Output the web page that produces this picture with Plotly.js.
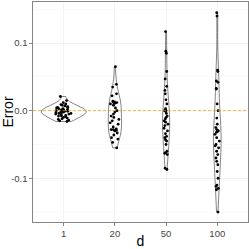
<!DOCTYPE html>
<html><head><meta charset="utf-8">
<script src="https://cdn.plot.ly/plotly-3.0.1.min.js"></script>
<style>html,body{margin:0;padding:0;background:#fff}#chart{width:249px;height:249px}</style>
</head><body><div id="chart"></div>
<script>
const categories = ['1', '20', '50', '100'];
const errD1 = [0.021, 0.015, 0.012, 0.010, 0.009, 0.008, 0.007, 0.006, 0.005, 0.005, 0.004, 0.003, 0.003, 0.002, 0.001, 0.001, 0.000, 0.000, -0.001, -0.001, -0.002, -0.002, -0.003, -0.003, -0.004, -0.004, -0.005, -0.005, -0.006, -0.007, -0.008, -0.008, -0.009, -0.010, -0.011, -0.012, -0.013, -0.014, -0.015, -0.016];
const errD20 = [0.065, 0.039, 0.035, 0.025, 0.022, 0.014, 0.013, 0.012, 0.012, 0.011, 0.010, 0.008, 0.004, 0.000, -0.002, -0.005, -0.008, -0.010, -0.013, -0.015, -0.018, -0.020, -0.024, -0.027, -0.028, -0.028, -0.029, -0.030, -0.033, -0.036, -0.040, -0.042, -0.047, -0.055];
const errD50 = [0.117, 0.088, 0.085, 0.058, 0.047, 0.036, 0.030, 0.025, 0.016, 0.010, 0.003, 0.000, 0.000, -0.001, -0.004, -0.008, -0.010, -0.012, -0.015, -0.017, -0.020, -0.022, -0.026, -0.030, -0.034, -0.038, -0.040, -0.043, -0.045, -0.050, -0.060, -0.062, -0.063, -0.065, -0.085, -0.087];
const errD100 = [0.145, 0.140, 0.060, 0.058, 0.044, 0.042, 0.033, 0.032, 0.010, 0.000, -0.011, -0.020, -0.025, -0.028, -0.029, -0.030, -0.031, -0.032, -0.035, -0.040, -0.045, -0.050, -0.052, -0.055, -0.060, -0.065, -0.070, -0.075, -0.080, -0.090, -0.100, -0.110, -0.112, -0.115, -0.117, -0.150];
const seriesValues = [errD1, errD20, errD50, errD100];
const violinWidths = [0.88, 0.26, 0.14, 0.15];
const jitters = [0.4, 0.8, 0.7, 0.7];
const yTickVals = [-0.1, 0, 0.1];
const yTickText = ['-0.1', '0.0', '0.1'];
const refLineY = 0;

const traces = categories.map((c, i) => ({
  type: 'violin',
  x: seriesValues[i].map(() => c),
  y: seriesValues[i],
  name: c,
  width: violinWidths[i],
  spanmode: 'hard',
  points: 'all',
  pointpos: 0,
  jitter: jitters[i],
  box: {visible: false},
  meanline: {visible: false},
  fillcolor: 'rgba(255,255,255,0)',
  line: {color: '#333333', width: 0.6},
  marker: {color: '#000000', size: 2.8},
  showlegend: false,
  hoverinfo: 'y'
}));

const tickFont = {family: 'Liberation Sans, Arial, sans-serif', size: 9.5, color: '#444444'};
const titleFont = {family: 'Liberation Sans, Arial, sans-serif', size: 14, color: '#000000'};

const layout = {
  width: 249, height: 249,
  margin: {l: 33, r: 1, t: 2, b: 27},
  paper_bgcolor: '#ffffff', plot_bgcolor: '#ffffff',
  font: {family: 'Liberation Sans, Arial, sans-serif', color: '#444444', size: 9},
  violinmode: 'overlay',
  xaxis: {
    type: 'category', categoryorder: 'array', categoryarray: categories,
    range: [-0.6, 3.6],
    tickfont: tickFont,
    showgrid: true, gridcolor: '#ebebeb', gridwidth: 0.6,
    ticks: 'outside', ticklen: 3, tickcolor: '#333333', tickwidth: 0.6,
    showline: true, mirror: true, linecolor: '#333333', linewidth: 0.6,
    zeroline: false,
    title: {text: 'd', font: titleFont, standoff: 2}
  },
  yaxis: {
    range: [-0.1647, 0.1608],
    tickvals: yTickVals, ticktext: yTickText,
    tickfont: tickFont,
    showgrid: true, gridcolor: '#ebebeb', gridwidth: 0.6,
    minor: {dtick: 0.05, tick0: 0.05, showgrid: true, gridcolor: '#f4f4f4', gridwidth: 0.4},
    ticks: 'outside', ticklen: 3, tickcolor: '#333333', tickwidth: 0.6,
    showline: true, mirror: true, linecolor: '#333333', linewidth: 0.6,
    zeroline: false,
    title: {text: 'Error', font: titleFont, standoff: 3}
  },
  shapes: [{type: 'line', xref: 'paper', x0: 0, x1: 1, yref: 'y', y0: refLineY, y1: refLineY,
    line: {color: '#E69F00', width: 0.7, dash: '3px,2px'}, layer: 'above'}]
};

Plotly.newPlot('chart', traces, layout, {staticPlot: true, displayModeBar: false});
</script></body></html>
